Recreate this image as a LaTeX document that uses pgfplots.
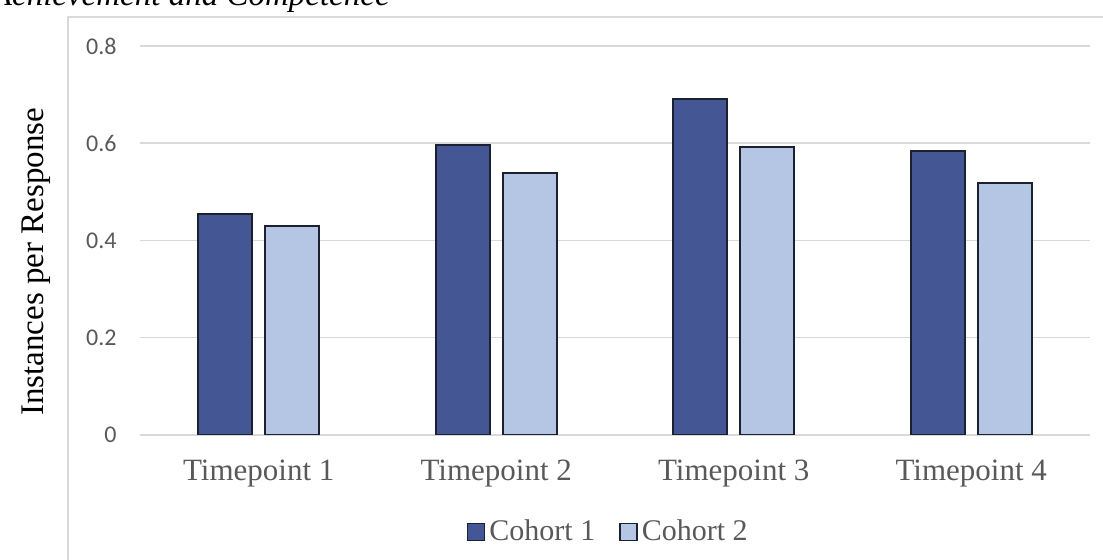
\documentclass[border=0pt]{standalone}
\usepackage{fontspec}
\setmainfont{Liberation Serif}
\newfontfamily\carlito{Carlito}
\usepackage{pgfplots}
\pgfplotsset{compat=1.18}
\definecolor{darkbar}{HTML}{445694}
\definecolor{lightbar}{HTML}{B4C6E4}
\definecolor{barline}{HTML}{1C2130}
\definecolor{txtgray}{HTML}{595959}
\definecolor{gridgray}{HTML}{D9D9D9}
\begin{document}
\begin{tikzpicture}
\path[use as bounding box] (0,0) rectangle (551.5pt,280pt);
% outer chart frame
\draw[color=gridgray, line width=0.75pt] (34pt,-10pt) -- (34pt,271.5pt) -- (560pt,271.5pt);
% caption, cropped at the top as in the reference
\node[anchor=base east, inner sep=0pt, font=\fontsize{16.5pt}{18pt}\selectfont\itshape] at (195pt,277pt) {Achievement and Competence};
\begin{axis}[
  at={(70pt,62.5pt)}, anchor=south west,
  scale only axis, width=475pt, height=194.5pt,
  xmin=-0.5, xmax=3.5, ymin=0, ymax=0.8,
  axis line style={draw=none},
  major tick length=0pt,
  ytick={0,0.2,0.4,0.6,0.8},
  xtick={0,1,2,3},
  xticklabels={Timepoint 1,Timepoint 2,Timepoint 3,Timepoint 4},
  ymajorgrids,
  grid style={color=gridgray, line width=0.75pt},
  /pgf/number format/assume math mode=true,
  yticklabel style={font=\carlito\fontsize{12pt}{14pt}\selectfont, text=txtgray, inner sep=0pt, xshift=-11.5pt},
  xticklabel style={font=\fontsize{15.5pt}{17pt}\selectfont, text=txtgray, inner sep=0pt, yshift=-12.5pt},
  ylabel={Instances per Response},
  every axis y label/.style={at={(-0.1095,0.445)}, rotate=90, anchor=center, font=\fontsize{16.5pt}{18pt}\selectfont},
  legend columns=2,
  legend style={at={(0.494,-0.249)}, anchor=center, draw=none, fill=none,
    font=\fontsize{15pt}{17pt}\selectfont, text=txtgray,
    /tikz/every even column/.append style={column sep=10pt},
    inner sep=0pt},
  legend image code/.code={\draw[#1, line width=0.8pt] (0pt,-4.25pt) rectangle (8.5pt,4.25pt);},
  legend cell align=left,
]
\addplot[ybar, bar width=27pt, bar shift=-16.75pt, fill=darkbar, draw=barline, line width=1pt]
  coordinates {(0,0.454) (1,0.596) (2,0.691) (3,0.584)};
\addlegendentry{Cohort 1}
\addplot[ybar, bar width=27pt, bar shift=16.75pt, fill=lightbar, draw=barline, line width=1pt]
  coordinates {(0,0.430) (1,0.539) (2,0.592) (3,0.518)};
\addlegendentry{Cohort 2}
\end{axis}
\end{tikzpicture}
\end{document}
